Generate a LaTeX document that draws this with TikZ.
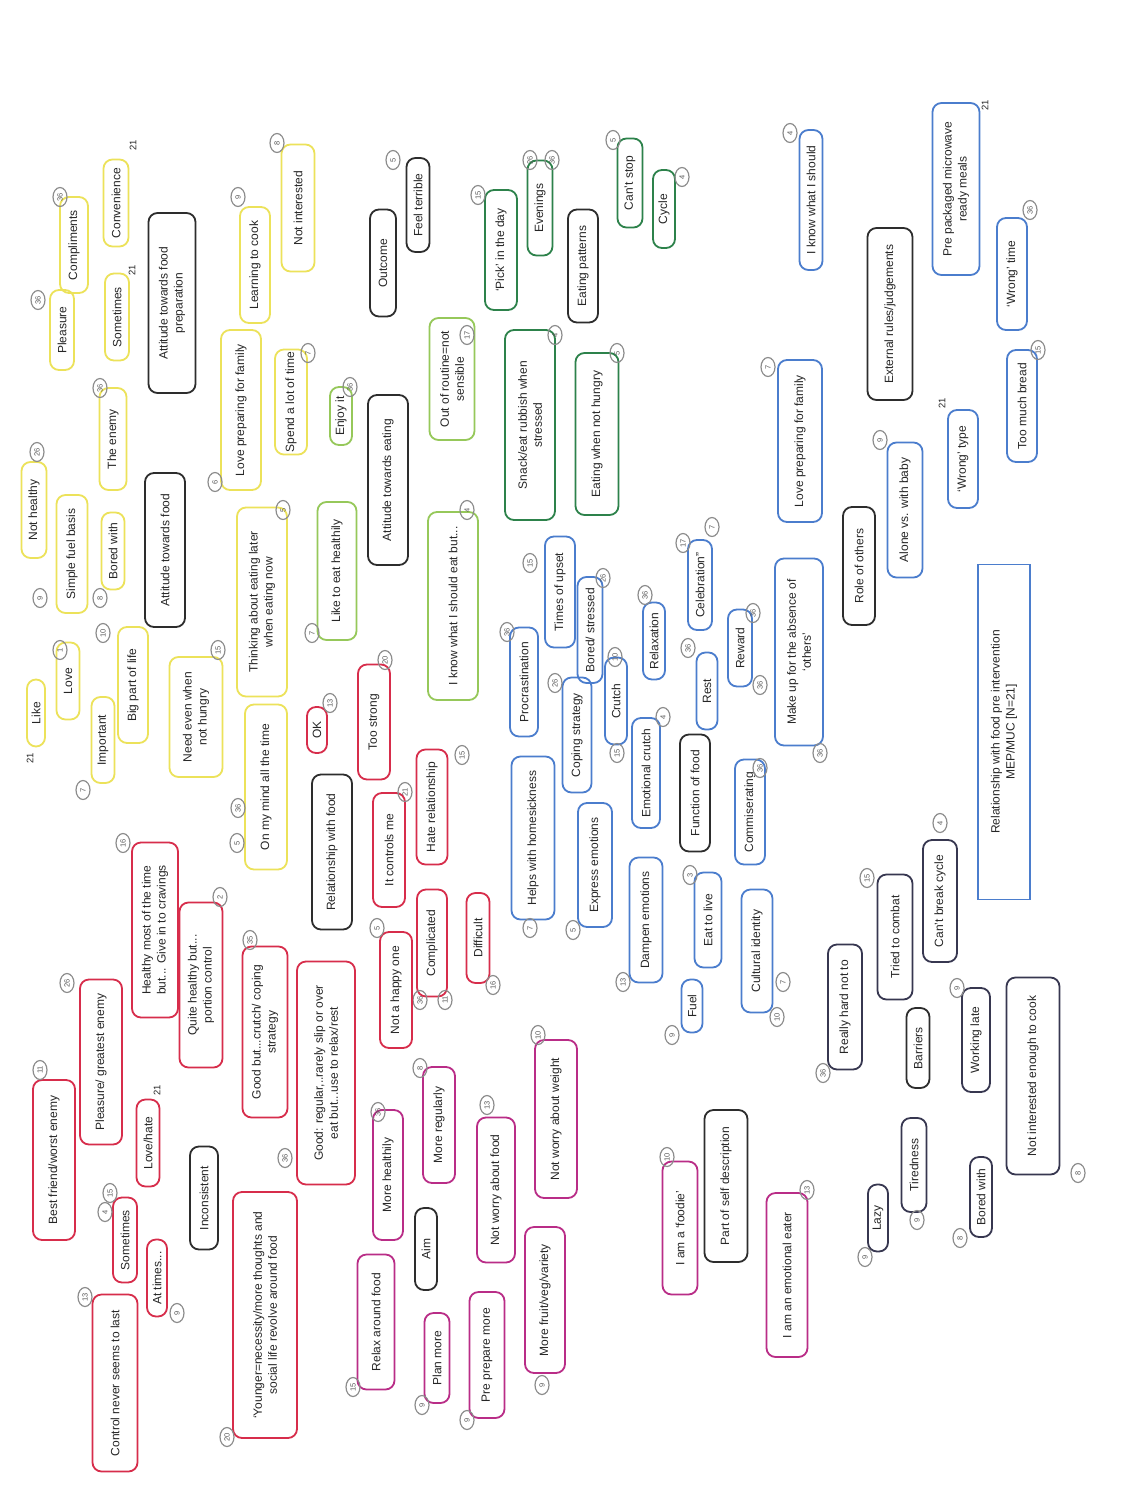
\documentclass[tikz,border=0pt]{standalone}
\usepackage{fontspec}
\setmainfont{Liberation Sans}
\usetikzlibrary{shapes.geometric}
\definecolor{cY}{RGB}{236,226,90}
\definecolor{cLG}{RGB}{150,200,90}
\definecolor{cG}{RGB}{45,130,75}
\definecolor{cR}{RGB}{215,45,75}
\definecolor{cB}{RGB}{75,125,205}
\definecolor{cM}{RGB}{185,45,135}
\definecolor{cK}{RGB}{45,45,45}
\definecolor{cN}{RGB}{55,55,80}
\definecolor{cC}{RGB}{140,140,140}
\newcommand{\bx}[7]{\node[bxs,draw=#6,minimum width=#4pt,minimum height=#5pt] (#1) at (#2,#3) {#7};}
\newcommand{\rbx}[7]{\node[bxs,rounded corners=0pt,draw=#6,minimum width=#4pt,minimum height=#5pt] (#1) at (#2,#3) {#7};}
\newcommand{\cn}[4]{\node[circs] (#1) at (#2,#3) {#4};}
\newcommand{\tw}[3]{\node[twl] (#1) at (#2,#3) {21};}
\begin{document}
\begin{tikzpicture}[x={(1pt,0)},y={(0,-1pt)},
  bxs/.style={rounded corners=9pt,line width=1.8pt,rotate=90,align=center,inner sep=2.5pt,
    font=\fontsize{12}{15}\selectfont,text=black!85},
  circs/.style={ellipse,draw=cC,line width=1.2pt,rotate=90,inner sep=0.5pt,
    minimum width=19pt,minimum height=14pt,text=black!65,font=\fontsize{7.5}{8}\selectfont},
  twl/.style={rotate=90,font=\fontsize{9.5}{10}\selectfont,text=black!85}]
\fill[white] (0,0) rectangle (1120,1492);
\useasboundingbox (0,0) rectangle (1120,1492);
% ---------- yellow group
\bx{compl}{74}{245}{96}{28}{cY}{Compliments}
\cn{c1}{60}{197}{36}
\bx{pleas}{62}{330}{80}{24}{cY}{Pleasure}
\cn{c2}{38}{300}{36}
\bx{conv}{116}{203}{87}{25}{cY}{Convenience}
\tw{t1}{133}{145}
\bx{somet}{117}{317}{87}{24}{cY}{Sometimes}
\tw{t2}{132}{270}
\bx{learn}{255}{265}{116}{30}{cY}{Learning to cook}
\cn{c3}{238}{197}{9}
\bx{notint}{298}{208}{127}{33}{cY}{Not interested}
\cn{c4}{277}{143}{8}
\bx{lovefam}{241}{410}{160}{40}{cY}{Love preparing for family}
\cn{c5}{215}{482}{6}
\bx{spend}{291}{402}{100}{32}{cY}{Spend a lot of time}
\cn{c6}{308}{353}{7}
\bx{nothealthy}{34}{510}{96}{25}{cY}{Not healthy}
\cn{c7}{37}{452}{26}
\bx{simple}{72}{554}{118}{31}{cY}{Simple fuel basis}
\cn{c8}{40}{598}{9}
\bx{enemy}{113}{439}{102}{27}{cY}{The enemy}
\cn{c9}{100}{388}{36}
\bx{boredw}{113}{551}{77}{23}{cY}{Bored with}
\cn{c10}{100}{598}{8}
\bx{love}{68}{681}{77}{23}{cY}{Love}
\cn{c11}{60}{650}{1}
\bx{like}{36}{713}{67}{18}{cY}{Like}
\tw{t3}{30}{758}
\bx{important}{103}{740}{86}{23}{cY}{Important}
\cn{c12}{83}{790}{7}
\bx{bigpart}{133}{685}{116}{30}{cY}{Big part of life}
\cn{c13}{103}{633}{10}
\bx{needeven}{196}{717}{120}{53}{cY}{Need even when\\not hungry}
\cn{c14}{218}{650}{15}
\bx{thinking}{262}{602}{189}{50}{cY}{Thinking about eating later\\when eating now}
\cn{c15}{283}{510}{5}
\bx{onmind}{266}{787}{165}{42}{cY}{On my mind all the time}
\cn{c16}{238}{808}{36}
\cn{c17}{237}{843}{5}
% ---------- light green
\bx{enjoy}{341}{416}{58}{22}{cLG}{Enjoy it}
\cn{c18}{350}{387}{36}
\bx{outr}{452}{379}{122}{45}{cLG}{Out of routine=not\\sensible}
\cn{c19}{467}{335}{17}
\bx{iknoweat}{453}{606}{188}{50}{cLG}{I know what I should eat but...}
\cn{c20}{467}{510}{4}
\bx{liketo}{337}{571}{138}{39}{cLG}{Like to eat healthily}
\cn{c21}{312}{633}{7}
% ---------- dark green
\bx{pick}{501}{250}{120}{32}{cG}{`Pick' in the day}
\cn{c22}{478}{195}{15}
\bx{even}{540}{208}{95}{25}{cG}{Evenings}
\cn{c23}{530}{160}{26}
\cn{c24}{552}{160}{36}
\bx{cant}{630}{183}{89}{25}{cG}{Can't stop}
\cn{c25}{613}{140}{5}
\bx{cycle}{664}{209}{78}{22}{cG}{Cycle}
\cn{c26}{682}{177}{4}
\bx{snack}{530}{425}{190}{50}{cG}{Snack/eat rubbish when\\stressed}
\cn{c27}{555}{335}{4}
\bx{ewnh}{597}{434}{162}{43}{cG}{Eating when not hungry}
\cn{c28}{617}{353}{5}
% ---------- black category boxes
\bx{attprep}{172}{303}{180}{47}{cK}{Attitude towards food\\preparation}
\bx{outcome}{383}{263}{107}{26}{cK}{Outcome}
\bx{feel}{418}{205}{94}{23}{cK}{Feel terrible}
\cn{c29}{393}{160}{5}
\bx{eatpat}{583}{266}{113}{30}{cK}{Eating patterns}
\bx{extr}{890}{314}{172}{45}{cK}{External rules/judgements}
\bx{attfood}{165}{550}{154}{40}{cK}{Attitude towards food}
\bx{atteat}{388}{480}{170}{40}{cK}{Attitude towards eating}
\bx{funcf}{695}{793}{117}{30}{cK}{Function of food}
\bx{role}{859}{566}{118}{32}{cK}{Role of others}
\bx{relf}{332}{852}{155}{40}{cK}{Relationship with food}
\bx{incons}{204}{1198}{103}{28}{cK}{Inconsistent}
\bx{aim}{426}{1249}{82}{22}{cK}{Aim}
\bx{partself}{726}{1186}{152}{43}{cK}{Part of self description}
\bx{barriers}{918}{1048}{80}{23}{cK}{Barriers}
% ---------- barriers group
\bx{cbc}{940}{901}{122}{34}{cN}{Can't break cycle}
\cn{c30}{940}{823}{4}
\bx{tried}{895}{937}{125}{35}{cN}{Tried to combat}
\cn{c31}{867}{878}{15}
\bx{really}{845}{1007}{125}{34}{cN}{Really hard not to}
\cn{c32}{823}{1073}{36}
\bx{working}{976}{1040}{104}{28}{cN}{Working late}
\cn{c33}{957}{988}{9}
\bx{notint2}{1033}{1076}{197}{53}{cN}{Not interested enough to cook}
\cn{c34}{1078}{1173}{8}
\bx{tired}{914}{1165}{94}{25}{cN}{Tiredness}
\cn{c35}{917}{1220}{9}
\bx{lazy}{878}{1218}{67}{20}{cN}{Lazy}
\cn{c36}{865}{1257}{9}
\bx{bored2}{981}{1197}{80}{22}{cN}{Bored with}
\cn{c37}{960}{1238}{8}
% ---------- blue group
\bx{iknow}{811}{200}{140}{23}{cB}{I know what I should}
\cn{c38}{790}{133}{4}
\bx{prepack}{956}{189}{172}{47}{cB}{Pre packaged microwave\\ready meals}
\tw{t4}{985}{105}
\bx{wtime}{1012}{274}{112}{30}{cB}{`Wrong' time}
\cn{c39}{1030}{210}{36}
\bx{bread}{1022}{406}{112}{30}{cB}{Too much bread}
\cn{c40}{1038}{350}{15}
\bx{lovefam2}{800}{441}{162}{44}{cB}{Love preparing for family}
\cn{c41}{768}{367}{7}
\bx{wtype}{963}{459}{98}{30}{cB}{`Wrong' type}
\tw{t5}{942}{403}
\bx{alone}{905}{510}{135}{35}{cB}{Alone vs. with baby}
\cn{c42}{880}{440}{9}
\bx{makeup}{799}{652}{187}{48}{cB}{Make up for the absence of\\`others'}
\cn{c43}{820}{753}{36}
\rbx{relbox}{1004}{732}{335}{52}{cB}{Relationship with food pre intervention\\MEP/MUC [N=21]}
\bx{times}{560}{592}{111}{30}{cB}{Times of upset}
\cn{c44}{530}{563}{15}
\bx{bstress}{590}{630}{106}{25}{cB}{Bored/ stressed}
\cn{c45}{603}{578}{26}
\bx{relax}{654}{641}{77}{22}{cB}{Relaxation}
\cn{c46}{645}{595}{36}
\bx{celeb}{700}{585}{90}{24}{cB}{Celebration''}
\cn{c47}{683}{543}{17}
\cn{c48}{712}{527}{7}
\bx{reward}{740}{648}{77}{24}{cB}{Reward}
\cn{c49}{753}{613}{36}
\cn{c50}{760}{685}{36}
\bx{procr}{524}{682}{109}{28}{cB}{Procrastination}
\cn{c51}{507}{632}{36}
\bx{coping}{577}{735}{115}{29}{cB}{Coping strategy}
\cn{c52}{555}{683}{26}
\bx{crutch}{616}{701}{87}{22}{cB}{Crutch}
\cn{c53}{615}{657}{10}
\cn{c54}{617}{753}{15}
\bx{rest}{707}{691}{77}{21}{cB}{Rest}
\cn{c55}{688}{648}{36}
\bx{emocr}{646}{773}{110}{28}{cB}{Emotional crutch}
\cn{c56}{663}{717}{4}
\bx{homes}{533}{838}{163}{43}{cB}{Helps with homesickness}
\cn{c57}{530}{928}{7}
\bx{express}{595}{865}{124}{34}{cB}{Express emotions}
\cn{c58}{573}{930}{5}
\bx{dampen}{646}{920}{125}{33}{cB}{Dampen emotions}
\cn{c59}{623}{982}{13}
\bx{eatlive}{708}{920}{95}{27}{cB}{Eat to live}
\cn{c60}{690}{875}{3}
\bx{fuel}{692}{1006}{53}{21}{cB}{Fuel}
\cn{c61}{672}{1035}{9}
\bx{commis}{750}{812}{105}{30}{cB}{Commiserating}
\cn{c62}{760}{768}{36}
\bx{cultural}{757}{951}{123}{31}{cB}{Cultural identity}
\cn{c63}{783}{982}{7}
\cn{c64}{777}{1017}{10}
% ---------- red group
\bx{ok}{317}{730}{46}{20}{cR}{OK}
\cn{c65}{330}{703}{13}
\bx{toostrong}{374}{722}{115}{32}{cR}{Too strong}
\cn{c66}{385}{660}{20}
\bx{controls}{389}{850}{114}{32}{cR}{It controls me}
\cn{c67}{405}{792}{21}
\bx{hate}{432}{807}{115}{31}{cR}{Hate relationship}
\cn{c68}{462}{755}{15}
\bx{complic}{432}{943}{107}{30}{cR}{Complicated}
\cn{c69}{420}{1000}{36}
\cn{c70}{445}{1000}{11}
\bx{nothappy}{396}{990}{116}{32}{cR}{Not a happy one}
\cn{c71}{377}{928}{5}
\bx{difficult}{478}{938}{90}{23}{cR}{Difficult}
\cn{c72}{493}{985}{16}
\bx{healthymost}{155}{930}{175}{46}{cR}{Healthy most of the time\\but... Give in to cravings}
\cn{c73}{123}{843}{16}
\bx{quite}{201}{985}{165}{43}{cR}{Quite healthy but...\\portion control}
\cn{c74}{220}{897}{2}
\bx{goodcrutch}{265}{1032}{171}{45}{cR}{Good but...crutch/ coping\\strategy}
\cn{c75}{250}{940}{35}
\bx{goodreg}{326}{1073}{223}{58}{cR}{Good: regular,..rarely slip or over\\eat but...use to relax/rest}
\cn{c76}{285}{1158}{36}
\bx{pleasenemy}{101}{1062}{165}{42}{cR}{Pleasure/ greatest enemy}
\cn{c77}{67}{983}{26}
\bx{bestfr}{54}{1160}{160}{42}{cR}{Best friend/worst enemy}
\cn{c78}{40}{1070}{11}
\bx{lovehate}{148}{1143}{87}{23}{cR}{Love/hate}
\tw{t6}{157}{1090}
\bx{somet2}{125}{1240}{85}{24}{cR}{Sometimes}
\cn{c79}{110}{1193}{15}
\cn{c80}{105}{1212}{4}
\bx{attimes}{157}{1278}{77}{20}{cR}{At times...}
\cn{c81}{177}{1313}{9}
\bx{control}{115}{1383}{177}{45}{cR}{Control never seems to last}
\cn{c82}{85}{1297}{13}
\bx{younger}{265}{1315}{246}{64}{cR}{`Younger=necessity/more thoughts and\\social life revolve around food}
\cn{c83}{227}{1437}{20}
% ---------- magenta group
\bx{notweight}{556}{1119}{158}{42}{cM}{Not worry about weight}
\cn{c84}{538}{1035}{10}
\bx{moreReg}{439}{1125}{116}{32}{cM}{More regularly}
\cn{c85}{420}{1068}{8}
\bx{notfood}{496}{1190}{145}{38}{cM}{Not worry about food}
\cn{c86}{487}{1105}{13}
\bx{moreHealth}{388}{1175}{130}{30}{cM}{More healthily}
\cn{c87}{378}{1112}{36}
\bx{relaxfood}{376}{1322}{135}{37}{cM}{Relax around food}
\cn{c88}{353}{1387}{15}
\bx{planmore}{437}{1358}{90}{25}{cM}{Plan more}
\cn{c89}{422}{1405}{9}
\bx{preprep}{487}{1355}{126}{35}{cM}{Pre prepare more}
\cn{c90}{467}{1420}{9}
\bx{fruit}{545}{1300}{146}{40}{cM}{More fruit/veg/variety}
\cn{c91}{542}{1385}{9}
\bx{foodie}{680}{1228}{133}{35}{cM}{I am a `foodie'}
\cn{c92}{667}{1157}{10}
\bx{emoeater}{787}{1275}{164}{41}{cM}{I am an emotional eater}
\cn{c93}{807}{1190}{13}
\end{tikzpicture}
\end{document}
